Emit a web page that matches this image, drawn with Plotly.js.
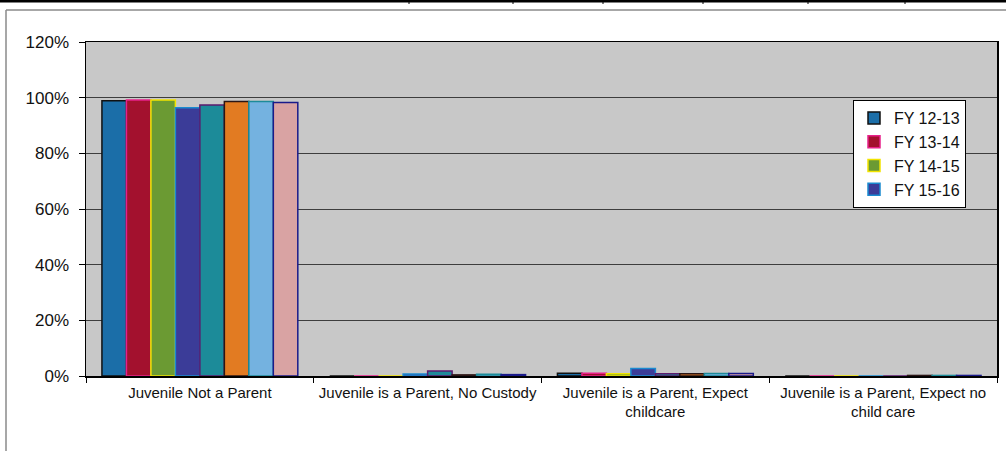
<!DOCTYPE html>
<html>
<head>
<meta charset="utf-8">
<script src="https://cdn.plot.ly/plotly-3.0.1.min.js"></script>
<style>html,body{margin:0;padding:0;background:#fff;}#chart{width:1006px;height:451px;}</style>
</head>
<body>
<div id="chart"></div>
<script>
var categories = [
  "Juvenile Not a Parent",
  "Juvenile is a Parent, No Custody",
  "Juvenile is a Parent, Expect<br>childcare",
  "Juvenile is a Parent, Expect no<br>child care"
];
var seriesNames = ["FY 12-13", "FY 13-14", "FY 14-15", "FY 15-16", "FY 16-17", "FY 17-18", "FY 18-19", "FY 19-20"];
var fy1213 = [0.989, 0.000, 0.010, 0.000];
var fy1314 = [0.992, 0.000, 0.010, 0.000];
var fy1415 = [0.992, 0.000, 0.008, 0.000];
var fy1516 = [0.964, 0.007, 0.027, 0.000];
var fy1617 = [0.974, 0.018, 0.008, 0.000];
var fy1718 = [0.986, 0.004, 0.008, 0.002];
var fy1819 = [0.986, 0.006, 0.009, 0.002];
var fy1920 = [0.983, 0.005, 0.009, 0.002];
var seriesValues = [fy1213, fy1314, fy1415, fy1516, fy1617, fy1718, fy1819, fy1920];

var fills   = ["#1b6ea8", "#a3112e", "#6b9a33", "#3b3c98", "#1c8b99", "#e27b22", "#74b2e0", "#d9a3a3"];
var borders = ["#111111", "#e8208a", "#f2e400", "#1a8ad0", "#5a1a6e", "#2a1616", "#1c8b99", "#1a1a8a"];
var legendShown = [true, true, true, true, false, false, false, false];

var traces = seriesNames.map(function(n, i){
  return {
    type: "bar", name: n, x: categories, y: seriesValues[i],
    showlegend: legendShown[i],
    marker: {color: fills[i], line: {color: borders[i], width: 1.5}},
    hoverinfo: "name+y"
  };
});

var W = 1006, H = 451, L = 86, R = 9, T = 42, B = 75;
var pw = W - L - R, ph = H - T - B;
function px(x){ return (x - L) / pw; }
function py(y){ return (H - B - y) / ph; }

var shapes = [
  {type:"line", xref:"paper", yref:"paper", x0:px(6), x1:px(1006), y0:py(10), y1:py(10), line:{color:"#8a8a8a", width:1.5}},
  {type:"line", xref:"paper", yref:"paper", x0:px(6), x1:px(6), y0:py(10), y1:py(451), line:{color:"#8a8a8a", width:1.5}},
  {type:"line", xref:"paper", yref:"paper", x0:px(0), x1:px(1006), y0:py(1), y1:py(1), line:{color:"#000", width:3}}
];
[409, 513, 603, 703, 808, 905].forEach(function(x){
  shapes.push({type:"line", xref:"paper", yref:"paper", x0:px(x), x1:px(x), y0:py(0), y1:py(4), line:{color:"#000", width:1}});
});

var layout = {
  width: W, height: H,
  margin: {l: L, r: R, t: T, b: B, pad: 0},
  paper_bgcolor: "#ffffff",
  plot_bgcolor: "#c8c8c8",
  barmode: "group",
  bargap: 0.14,
  bargroupgap: 0,
  font: {family: "Liberation Sans, Arial, sans-serif", color: "#000"},
  xaxis: {
    type: "category",
    showline: true, linecolor: "#000", linewidth: 1.5, mirror: true,
    ticks: "outside", tickson: "boundaries", ticklen: 5, tickcolor: "#000",
    tickfont: {size: 15, color: "#111"},
    ticklabelstandoff: 2,
    showgrid: false, fixedrange: true
  },
  yaxis: {
    range: [0, 1.2], dtick: 0.2, tickformat: ".0%",
    showline: true, linecolor: "#000", linewidth: 1.5, mirror: true,
    ticks: "outside", ticklen: 6, tickcolor: "#000",
    tickfont: {size: 17, color: "#111"},
    ticklabelstandoff: 6,
    showgrid: true, gridcolor: "#3e3e3e", gridwidth: 1,
    zeroline: false, fixedrange: true
  },
  legend: {
    x: px(853), y: py(100), xanchor: "left", yanchor: "top",
    bgcolor: "#ffffff", bordercolor: "#000", borderwidth: 1,
    font: {size: 16, color: "#111"},
    tracegroupgap: 0, itemwidth: 30
  },
  shapes: shapes
};

Plotly.newPlot("chart", traces, layout, {displayModeBar: false, staticPlot: true});
</script>
</body>
</html>
